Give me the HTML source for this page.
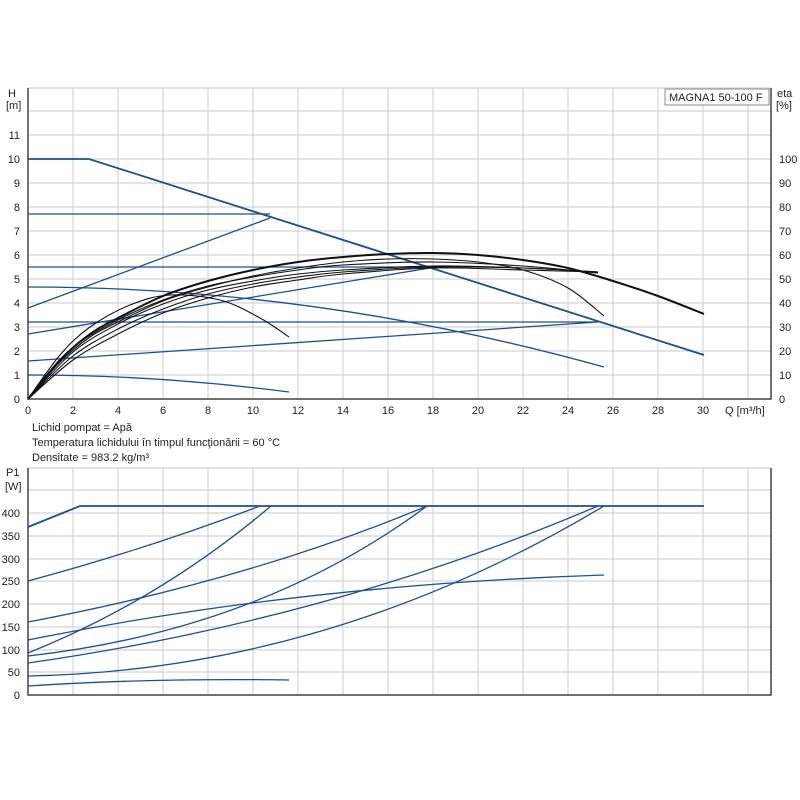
<!DOCTYPE html>
<html><head><meta charset="utf-8"><style>
body{margin:0;background:#fff;}
svg{display:block;font-family:"Liberation Sans",sans-serif;}
</style></head><body>
<svg id="s" width="800" height="800" viewBox="0 0 800 800" xmlns="http://www.w3.org/2000/svg">
<rect width="800" height="800" fill="#fff"/>
<g stroke="#d4d4d4" stroke-width="1.2" fill="none">
<path d="M73 88V399M118 88V399M163 88V399M208 88V399M253 88V399M298 88V399M343 88V399M388 88V399M433 88V399M478 88V399M523 88V399M568 88V399M613 88V399M658 88V399M703 88V399M748 88V399"/>
<path d="M28 375H771M28 351H771M28 327H771M28 303H771M28 279H771M28 255H771M28 231H771M28 207H771M28 183H771M28 159H771M28 135H771M28 111H771M28 88H771"/>
<path d="M73 468V695M118 468V695M163 468V695M208 468V695M253 468V695M298 468V695M343 468V695M388 468V695M433 468V695M478 468V695M523 468V695M568 468V695M613 468V695M658 468V695M703 468V695M748 468V695"/>
<path d="M28 672H771M28 650H771M28 627H771M28 604H771M28 581H771M28 559H771M28 536H771M28 513H771M28 490H771M28 468H771"/>
</g>
<g stroke="#444" stroke-width="1.5" fill="none">
<path d="M28 88V399H771V88"/>
<path d="M28 468V695H771V468"/>
</g>
<g font-size="11" fill="#222" text-anchor="end">
<text x="20" y="403">0</text><text x="20" y="379">1</text><text x="20" y="355">2</text><text x="20" y="331">3</text><text x="20" y="307">4</text><text x="20" y="283">5</text><text x="20" y="259">6</text><text x="20" y="235">7</text><text x="20" y="211">8</text><text x="20" y="187">9</text><text x="20" y="163">10</text><text x="20" y="139">11</text>
<text x="20" y="699">0</text><text x="20" y="676">50</text><text x="20" y="654">100</text><text x="20" y="631">150</text><text x="20" y="608">200</text><text x="20" y="585">250</text><text x="20" y="563">300</text><text x="20" y="540">350</text><text x="20" y="517">400</text>
</g>
<g font-size="11" fill="#222">
<text x="8" y="97">H</text><text x="6" y="109">[m]</text>
<text x="6" y="476">P1</text><text x="5" y="490">[W]</text>
<text x="777" y="97">eta</text><text x="776" y="109">[%]</text>
<text x="779" y="403">0</text><text x="779" y="379">10</text><text x="779" y="355">20</text><text x="779" y="331">30</text><text x="779" y="307">40</text><text x="779" y="283">50</text><text x="779" y="259">60</text><text x="779" y="235">70</text><text x="779" y="211">80</text><text x="779" y="187">90</text><text x="779" y="163">100</text>
<text x="725" y="414">Q [m³/h]</text>
<text x="32" y="431">Lichid pompat = Apă</text>
<text x="32" y="446">Temperatura lichidului în timpul funcţionării = 60 °C</text>
<text x="32" y="461">Densitate = 983.2 kg/m³</text>
</g>
<g font-size="11" fill="#222" text-anchor="middle">
<text x="28" y="414">0</text><text x="73" y="414">2</text><text x="118" y="414">4</text><text x="163" y="414">6</text><text x="208" y="414">8</text><text x="253" y="414">10</text><text x="298" y="414">12</text><text x="343" y="414">14</text><text x="388" y="414">16</text><text x="433" y="414">18</text><text x="478" y="414">20</text><text x="523" y="414">22</text><text x="568" y="414">24</text><text x="613" y="414">26</text><text x="658" y="414">28</text><text x="703" y="414">30</text>
</g>
<rect x="665" y="89" width="104" height="16" fill="#fff" stroke="#888"/>
<text x="669" y="101" font-size="11" fill="#222">MAGNA1 50-100 F</text>
<g stroke="#1b4f91" stroke-width="1.3" fill="none">
<path d="M28 159H89L704 355" stroke-width="1.8"/>
<path d="M28 214H270"/>
<path d="M28 308L270 218"/>
<path d="M28 267H430"/>
<path d="M28 334L430 268"/>
<path d="M28 287Q316 287 604 367"/>
<path d="M28 322H598L28 361"/>
<path d="M28 375Q158 375 289 392"/>
</g>
<g stroke="#111" stroke-width="1.1" fill="none">
<polyline class="sm" stroke-width="2" points="28,399 60,360 90,334 118,318 163,296 208,281 253,270 298,262 343,257 388,254 433,253 478,255 523,260 568,268 613,281 658,296 704,314"/>
<polyline class="sm" points="28,399 60,362 90,337 118,322 163,301 208,287 253,276 298,268 343,262 388,259 433,259 478,262 523,270 568,288 604,316"/>
<polyline class="sm" points="28,399 60,355 90,327 130,305 170,295 220,300 260,318 289,337"/>
<polyline class="sm" points="28,399 73,352 118,324 163,304 208,290 253,281 298,274 343,270 433,266 523,268 598,272"/>
<polyline class="sm" points="28,399 73,356 118,329 163,309 208,294 253,284 298,277 343,272 433,267 523,268 598,272"/>
<polyline class="sm" points="28,399 73,360 118,334 163,313 208,298 253,287 298,280 343,274 433,268 523,270 598,272"/>
<polyline class="sm" points="28,399 73,348 118,320 163,300 208,286 253,277 298,270 343,265 433,262 523,266 598,273"/>
</g>
<g stroke="#1b4f91" stroke-width="1.3" fill="none">
<path d="M28 527L80 506H704" stroke-width="1.8"/>
<path d="M28 581Q150 548 260 506"/>
<path d="M28 653Q160 600 271 506"/>
<path d="M28 622Q250 580 427 506"/>
<path d="M28 656Q260 630 427 506"/>
<path d="M28 640Q300 585 604 575"/>
<path d="M28 663Q330 620 598 506"/>
<path d="M28 676Q330 670 604 506"/>
<path d="M28 686Q150 678 289 680"/>
</g>
</svg>
<script>
document.querySelectorAll('polyline.sm').forEach(function(pl){
var p=pl.getAttribute('points').trim().split(/\s+/).map(function(s){return s.split(',').map(Number);});
var d='M'+p[0][0]+' '+p[0][1];
for(var i=0;i<p.length-1;i++){
var p0=p[i>0?i-1:0],p1=p[i],p2=p[i+1],p3=p[i+2<p.length?i+2:i+1];
var c1=[p1[0]+(p2[0]-p0[0])/6,p1[1]+(p2[1]-p0[1])/6];
var c2=[p2[0]-(p3[0]-p1[0])/6,p2[1]-(p3[1]-p1[1])/6];
d+='C'+c1[0].toFixed(1)+' '+c1[1].toFixed(1)+' '+c2[0].toFixed(1)+' '+c2[1].toFixed(1)+' '+p2[0]+' '+p2[1];}
var path=document.createElementNS('http://www.w3.org/2000/svg','path');
path.setAttribute('d',d);
if(pl.getAttribute('stroke-width'))path.setAttribute('stroke-width',pl.getAttribute('stroke-width'));
pl.parentNode.replaceChild(path,pl);});
</script>
</body></html>
